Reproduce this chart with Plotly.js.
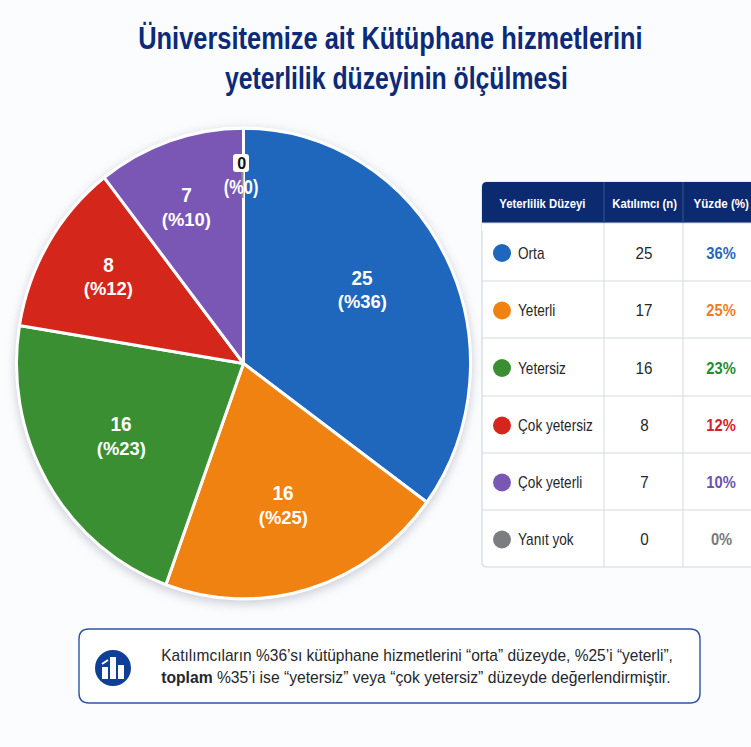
<!DOCTYPE html>
<html><head><meta charset="utf-8">
<script src="https://cdn.plot.ly/plotly-3.0.1.min.js"></script>
<style>html,body{margin:0;padding:0;background:#fbfcfe}
.pielayer{filter:drop-shadow(0 3px 5px rgba(70,80,100,.28))}</style></head>
<body><div id="chart" style="width:751px;height:747px"></div>
<script>
const W = 751, H = 747;
const categories = ["Orta","Yeterli","Yetersiz","Çok yetersiz","Çok yeterli","Yanıt yok"];
const sliceShares = [35.0,20.5,22.0,11.9,10.5,0];
const sliceCounts = ["25","16","16","8","7","0"];
const slicePercents = ["(%36)","(%25)","(%23)","(%12)","(%10)","(%0)"];
const tableCounts = ["25","17","16","8","7","0"];
const tablePercents = ["36%","25%","23%","12%","10%","0%"];
const colors = ["#1f66bd","#f08212","#3a8f33","#d4261a","#7a57b5","#7c7d80"];
const tableTextColors = ["#2466b8","#ee7d1c","#1f8a2e","#d0202a","#6d4fb0","#77787c"];
const headers = ["Yeterlilik Düzeyi","Katılımcı (n)","Yüzde (%)"];
const titleLines = ["Üniversitemize ait Kütüphane hizmetlerini","yeterlilik düzeyinin ölçülmesi"];
const note1 = "Katılımcıların %36’sı kütüphane hizmetlerini “orta” düzeyde, %25’i “yeterli”,";
const note2 = "<b>toplam</b> %35’i ise “yetersiz” veya “çok yetersiz” düzeyde değerlendirmiştir.";

const FONT = "'Liberation Sans',Arial,sans-serif";
const X = p => p / W, Y = p => 1 - p / H;
const shapes = [], annotations = [], narrow = [];
function txt(x, y, text, size, color, anchor, bold, sx) {
  annotations.push({xref:"paper",yref:"paper",x:X(x),y:Y(y),text:bold?`<b>${text}</b>`:text,
    showarrow:false,xanchor:anchor||"center",yanchor:"middle",
    font:{family:FONT,size:size,color:color}});
  narrow.push({sx:sx||1,left:anchor==="left"});
}
function rrect(x0,y0,x1,y1,r,fill,line,lw){
  const p=`M${X(x0+r)},${Y(y0)} L${X(x1-r)},${Y(y0)} Q${X(x1)},${Y(y0)} ${X(x1)},${Y(y0+r)} L${X(x1)},${Y(y1-r)} Q${X(x1)},${Y(y1)} ${X(x1-r)},${Y(y1)} L${X(x0+r)},${Y(y1)} Q${X(x0)},${Y(y1)} ${X(x0)},${Y(y1-r)} L${X(x0)},${Y(y0+r)} Q${X(x0)},${Y(y0)} ${X(x0+r)},${Y(y0)} Z`;
  shapes.push({type:"path",xref:"paper",yref:"paper",path:p,fillcolor:fill,line:{color:line||fill,width:lw===undefined?1:lw}});
}
function rect(x0,y0,x1,y1,fill){shapes.push({type:"rect",xref:"paper",yref:"paper",x0:X(x0),x1:X(x1),y0:Y(y0),y1:Y(y1),fillcolor:fill,line:{width:0}});}
function line(x0,y0,x1,y1,c,w){shapes.push({type:"line",xref:"paper",yref:"paper",x0:X(x0),x1:X(x1),y0:Y(y0),y1:Y(y1),line:{color:c,width:w}});}
function circle(cx,cy,r,fill){shapes.push({type:"circle",xref:"paper",yref:"paper",x0:X(cx-r),x1:X(cx+r),y0:Y(cy-r),y1:Y(cy+r),fillcolor:fill,line:{width:0}});}

// title
txt(390,38,titleLines[0],32,"#0b2a78","center",true,0.795);
txt(396,78,titleLines[1],32,"#0b2a78","center",true,0.775);

// slice labels
const labelPos = [[362,290],[283,505],[121,436],[108,277],[186,207]];
labelPos.forEach((p,i)=>{
  txt(p[0],p[1]-12,sliceCounts[i],20,"#fff","center",true,0.95);
  txt(p[0],p[1]+12,slicePercents[i],19,"#fff","center",true,0.97);
});
// zero slice label
line(242.5,172,242.5,198,"#8d8f94",2);
rrect(233,154,249,172,3,"#ffffff","#ffffff",0);
txt(241,163,sliceCounts[5],17,"#111","center",true,0.95);
txt(241,187,slicePercents[5],20,"#fff","center",true,0.82);

// table
const tl=482, tr=756, c1=604, c2=683, tableTop=182, hb=223;
const rows=[223,281,338,396,453,510,567];
rrect(tl,tableTop,tr,rows[6],5,"#ffffff","#d3d7de",1.2);
rrect(tl,tableTop,tr,hb+6,5,"#0b2a6f","#0b2a6f",0);
rect(tl,hb-6,tr,hb,"#0b2a6f");
rect(tl,hb,tr,hb+8,"#ffffff");
line(tl,hb,tr,hb,"#d3d7de",1);
line(c1,tableTop,c1,hb,"#3d5590",1); line(c2,tableTop,c2,hb,"#3d5590",1);
line(c1,hb,c1,rows[6],"#d6d9df",1); line(c2,hb,c2,rows[6],"#d6d9df",1);
rows.slice(1,6).forEach(y=>line(tl,y,tr,y,"#d6d9df",1));
txt(542,203,headers[0],13.5,"#fff","center",true,0.84);
txt(644,203,headers[1],13.5,"#fff","center",true,0.84);
txt(721,203,headers[2],13.5,"#fff","center",true,0.86);
categories.forEach((c,i)=>{
  const y=(rows[i]+rows[i+1])/2+1;
  circle(502,y,9,colors[i]);
  txt(516,y,c,16,"#25272b","left",false,0.85);
  txt(644,y,tableCounts[i],16,"#25272b","center",false,0.95);
  txt(721,y,tablePercents[i],16,tableTextColors[i],"center",true,0.92);
});

// note
rrect(79,629,700,703,10,"#ffffff","#2d54a8",1.4);
circle(113,668,18,"#0f3f96");
rect(102,667,108,679,"#ffffff");
rect(110,657,116,679,"#ffffff");
rect(118,665,124,679,"#ffffff");
line(102,664,108,660,"#ffffff",2);
txt(159,655,note1,16,"#24272c","left",false,0.97);
txt(159,677,note2,16,"#24272c","left",false,0.98);

const R=227, cx=243.5, cy=363.5, yStretch=1.037;
const data=[{type:"pie",labels:categories,values:sliceShares,sort:false,direction:"clockwise",rotation:0,
  marker:{colors:colors,line:{color:"#ffffff",width:3}},textinfo:"none",hoverinfo:"label",showlegend:false,
  domain:{x:[X(cx-R),X(cx+R)],y:[Y(cy+R),Y(cy-R)]}}];
const layout={width:W,height:H,margin:{l:0,r:0,t:0,b:0},paper_bgcolor:"#fbfcfe",plot_bgcolor:"#fbfcfe",
  showlegend:false,shapes:shapes,annotations:annotations,font:{family:FONT}};
Plotly.newPlot("chart",data,layout,{displayModeBar:false,staticPlot:true}).then(()=>{
  // the reference type is condensed and its pie slightly tall: apply both to the drawn SVG
  document.querySelectorAll(".pielayer").forEach(g=>
    g.setAttribute("transform",`translate(0,${cy}) scale(1,${yStretch}) translate(0,${-cy})`));
  document.querySelectorAll(".annotation").forEach(a=>{
    const n=narrow[+a.getAttribute("data-index")], t=a.querySelector("text");
    if(!n||!t||n.sx===1) return;
    const b=t.getBBox(), ox=n.left?b.x:b.x+b.width/2;
    t.setAttribute("transform",`translate(${ox},0) scale(${n.sx},1) translate(${-ox},0)`);
  });
});
</script></body></html>
